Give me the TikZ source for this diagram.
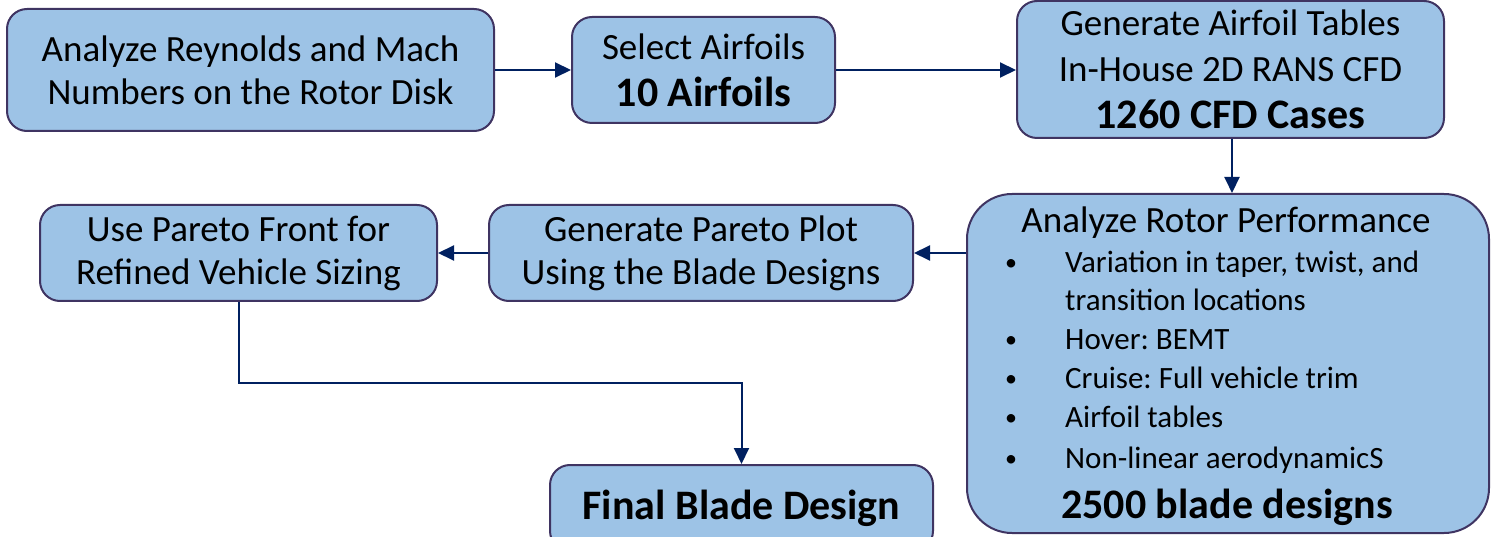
\documentclass[tikz,border=0pt]{standalone}
\usepackage{fontspec}
\setmainfont{Carlito}
\usetikzlibrary{arrows.meta}
\definecolor{boxfill}{RGB}{157,195,230}
\definecolor{boxline}{RGB}{63,52,98}
\definecolor{arrowcol}{RGB}{0,32,96}
\tikzset{
  stepbox/.style={draw=boxline, line width=2pt, fill=boxfill, rounded corners=20pt, align=center, inner sep=0pt, font=\fontsize{37}{43}\selectfont},
  flow/.style={draw=arrowcol, line width=2pt, -{Triangle[length=16pt,width=15pt]}},
  itemtext/.style={anchor=base west, inner sep=0pt, font=\fontsize{31}{36}\selectfont},
  dot/.style={anchor=base, inner sep=0pt, font=\fontsize{24}{28}\selectfont},
}
\newcommand{\bigbold}[1]{{\fontsize{42}{48}\selectfont\bfseries #1}}
\frenchspacing

\begin{document}
\begin{tikzpicture}[x=1pt,y=-1pt]
\useasboundingbox (0,0) rectangle (1494,537);
\clip (0,0) rectangle (1494,537);
\node[stepbox, minimum width=487pt, minimum height=122pt] (reynolds) at (250.5,70) {Analyze Reynolds and Mach\\Numbers on the Rotor Disk};
\node[stepbox, minimum width=263pt, minimum height=106pt] (select) at (703.5,70) {Select Airfoils\\[4pt]\bigbold{10 Airfoils}};
\node[stepbox, minimum width=427pt, minimum height=137pt] (tables) at (1230.5,69.5) {Generate Airfoil Tables\\[3pt]In-House 2D RANS CFD\\[4pt]\bigbold{1260 CFD Cases}};
\node[stepbox, rounded corners=45pt, minimum width=522pt, minimum height=339pt] (rotor) at (1228,363.5) {};
\node[anchor=base, inner sep=0pt, font=\fontsize{37}{43}\selectfont] (rotortitle) at (1226,233) {Analyze Rotor Performance};
\foreach \yy in {271,347,386,425,466}
  \node[dot] at (1011,\yy) {•};
\node[itemtext] (taper) at (1065,273) {Variation in taper, twist, and};
\node[itemtext] (trans) at (1065,311) {transition locations};
\node[itemtext] (hover) at (1065,349) {Hover: BEMT};
\node[itemtext] (cruise) at (1065,388) {Cruise: Full vehicle trim};
\node[itemtext] (airtab) at (1065,427) {Airfoil tables};
\node[itemtext] (nonlin) at (1065,468) {Non-linear aerodynamicS};
\node[anchor=base, inner sep=0pt] (designs) at (1227,518) {\bigbold{2500 blade designs}};
\node[stepbox, minimum width=424pt, minimum height=96pt] (pareto) at (701,253) {Generate Pareto Plot\\Using the Blade Designs};
\node[stepbox, minimum width=397pt, minimum height=96pt] (front) at (238.5,253) {Use Pareto Front for\\Refined Vehicle Sizing};
\node[stepbox, minimum width=383pt, minimum height=86pt] (final) at (741.5,508) {\bigbold{Final Blade Design}};
\draw[flow] (reynolds) -- (select);
\draw[flow] (select.east) -- (select.east -| tables.west);
\draw[flow] (tables.south -| 1232,0) -- (rotor.north -| 1232,0);
\draw[flow] (pareto.east -| rotor.west) -- (pareto.east);
\draw[flow] (pareto) -- (front);
\draw[flow] (front.south) -- ++(0,81) -| (final.north);
\end{tikzpicture}
\end{document}
